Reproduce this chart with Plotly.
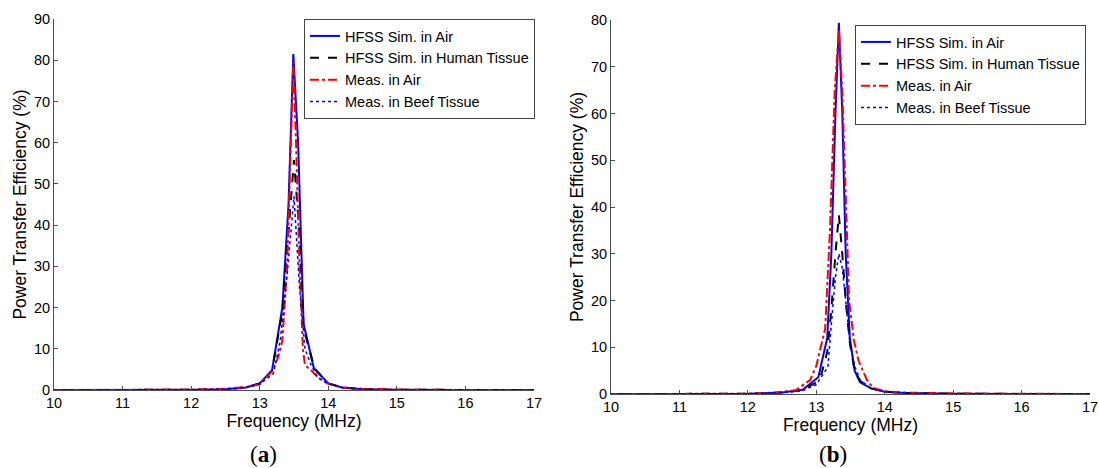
import plotly.graph_objects as go

W, H = 1099, 468

# ---------- (a) data ----------
a_sim_air_f = [10, 11, 12, 12.5, 12.8, 13.0, 13.18, 13.33, 13.42, 13.49, 13.56, 13.64, 13.79, 14.0, 14.2, 14.5, 15, 16, 17]
a_sim_air_y = [0, 0, 0.05, 0.2, 0.6, 1.6, 4.8, 20, 45, 81.5, 60, 16, 5.3, 1.6, 0.6, 0.2, 0.05, 0, 0]

a_sim_hum_f = [10, 11, 12, 12.5, 12.8, 13.0, 13.18, 13.33, 13.42, 13.5, 13.57, 13.64, 13.8, 14.0, 14.2, 14.5, 15, 16, 17]
a_sim_hum_y = [0, 0, 0.05, 0.2, 0.6, 1.6, 4.6, 19, 38, 55.8, 40, 15, 5.2, 1.6, 0.6, 0.2, 0.05, 0, 0]

a_meas_air_f = [10, 11, 12, 12.5, 12.8, 13.0, 13.18, 13.27, 13.33, 13.4, 13.45, 13.49, 13.53, 13.58, 13.63, 13.66, 13.75, 13.85, 14.0, 14.2, 14.5, 15, 16, 17]
a_meas_air_y = [0, 0, 0.05, 0.3, 0.7, 1.4, 4.5, 8, 12, 30, 55, 79.5, 60, 30, 10, 6, 4.8, 3, 1.5, 0.6, 0.3, 0.1, 0, 0]

a_meas_beef_f = [10, 11, 12, 12.5, 12.8, 13.0, 13.2, 13.3, 13.4, 13.5, 13.58, 13.66, 13.75, 13.85, 14.0, 14.2, 14.5, 15, 16, 17]
a_meas_beef_y = [0, 0, 0.05, 0.2, 0.6, 1.4, 4, 12, 28, 47, 25, 10, 6, 3, 1.5, 0.6, 0.2, 0.05, 0, 0]

# ---------- (b) data ----------
b_sim_air_f = [10, 11, 12, 12.5, 12.8, 13.03, 13.16, 13.22, 13.28, 13.33, 13.38, 13.43, 13.49, 13.56, 13.64, 13.8, 14.0, 14.3, 15, 16, 17]
b_sim_air_y = [0, 0, 0.05, 0.3, 0.9, 3.6, 12, 30, 60, 79.4, 60, 30, 12, 5, 2.5, 1.2, 0.5, 0.2, 0.05, 0, 0]

b_sim_hum_f = [10, 11, 12, 12.5, 12.8, 13.0, 13.08, 13.16, 13.22, 13.28, 13.33, 13.38, 13.43, 13.49, 13.56, 13.64, 13.8, 14.0, 14.3, 15, 16, 17]
b_sim_hum_y = [0, 0, 0.05, 0.3, 0.8, 2.5, 4.5, 9, 18, 30, 38.3, 30, 20, 11, 5, 2.8, 1.2, 0.5, 0.2, 0.05, 0, 0]

b_meas_air_f = [10, 11, 12, 12.4, 12.7, 12.91, 13.0, 13.13, 13.2, 13.27, 13.33, 13.38, 13.43, 13.48, 13.55, 13.62, 13.74, 13.83, 14.0, 14.3, 15, 16, 17]
b_meas_air_y = [0, 0, 0.05, 0.3, 0.8, 3, 6, 14, 35, 65, 77.8, 65, 40, 20, 11.5, 7, 3, 1.3, 0.6, 0.3, 0.1, 0, 0]

b_meas_beef_f = [10, 11, 12, 12.5, 12.8, 13.0, 13.17, 13.22, 13.28, 13.33, 13.38, 13.43, 13.49, 13.56, 13.64, 13.8, 14.0, 14.3, 15, 16, 17]
b_meas_beef_y = [0, 0, 0.05, 0.3, 0.7, 2, 5.8, 15, 25, 30, 27, 20, 11, 6, 3, 1.2, 0.5, 0.2, 0.05, 0, 0]

names = ["HFSS Sim. in Air", "HFSS Sim. in Human Tissue", "Meas. in Air", "Meas. in Beef Tissue"]
styles = [
    dict(color="#0000ff", width=2, dash="solid"),
    dict(color="#000000", width=2, dash="dash"),
    dict(color="#ff0000", width=2, dash="dashdot"),
    dict(color="#0000ff", width=1.5, dash="dot"),
]

fig = go.Figure()
sets_a = [(a_sim_air_f, a_sim_air_y), (a_sim_hum_f, a_sim_hum_y), (a_meas_air_f, a_meas_air_y), (a_meas_beef_f, a_meas_beef_y)]
sets_b = [(b_sim_air_f, b_sim_air_y), (b_sim_hum_f, b_sim_hum_y), (b_meas_air_f, b_meas_air_y), (b_meas_beef_f, b_meas_beef_y)]

for (fx, fy), nm, st in zip(sets_a, names, styles):
    fig.add_trace(go.Scatter(x=fx, y=fy, mode="lines", name=nm, line=st,
                             xaxis="x", yaxis="y", legend="legend"))
for (fx, fy), nm, st in zip(sets_b, names, styles):
    fig.add_trace(go.Scatter(x=fx, y=fy, mode="lines", name=nm, line=st,
                             xaxis="x2", yaxis="y2", legend="legend2"))

font = "Liberation Sans, Arial, sans-serif"
axcol = "#4d4d4d"

def xax(domain, anchor):
    return dict(domain=domain, anchor=anchor, range=[10, 17], dtick=1, tick0=10,
                showline=True, linecolor=axcol, linewidth=1, mirror=False, automargin=False,
                ticks="inside", ticklen=4, tickcolor=axcol, showgrid=False, zeroline=False,
                tickfont=dict(family=font, size=14.5, color="#000"),
                title=dict(text="Frequency (MHz)", font=dict(family=font, size=17.5, color="#000"), standoff=2))

def yax(domain, anchor, top):
    return dict(domain=domain, anchor=anchor, range=[0, top], dtick=10, tick0=0,
                showline=True, linecolor=axcol, linewidth=1, mirror=False, automargin=False,
                ticks="inside", ticklen=4, tickcolor=axcol, showgrid=False, zeroline=False,
                tickfont=dict(family=font, size=14.5, color="#000"),
                title=dict(text="Power Transfer Efficiency (%)", font=dict(family=font, size=17.5, color="#000"), standoff=2))

leg_common = dict(bgcolor="#ffffff", bordercolor="#444444", borderwidth=1,
                  font=dict(family=font, size=14.5, color="#000"),
                  xanchor="right", yanchor="top", tracegroupgap=0, itemwidth=30)

fig.update_layout(
    template="none",
    width=W, height=H,
    margin=dict(l=0, r=0, t=0, b=0, autoexpand=False),
    paper_bgcolor="#ffffff", plot_bgcolor="#ffffff",
    xaxis=xax([54 / W, 534 / W], "y"),
    yaxis=yax([1 - 390 / H, 1 - 19 / H], "x", 90),
    xaxis2=xax([611 / W, 1090 / W], "y2"),
    yaxis2=yax([1 - 394 / H, 1 - 20 / H], "x2", 80),
    legend=dict(x=535 / W, y=1 - 19 / H, **leg_common),
    legend2=dict(x=1086 / W, y=1 - 25 / H, **leg_common),
    annotations=[
        dict(text="(<b>a</b>)", x=263 / W, y=1 - 454 / H, xref="paper", yref="paper",
             xanchor="center", yanchor="middle", showarrow=False,
             font=dict(family="Liberation Serif, DejaVu Serif, serif", size=23, color="#000")),
        dict(text="(<b>b</b>)", x=833 / W, y=1 - 454 / H, xref="paper", yref="paper",
             xanchor="center", yanchor="middle", showarrow=False,
             font=dict(family="Liberation Serif, DejaVu Serif, serif", size=23, color="#000")),
    ],
)

fig.write_html("out.html")
